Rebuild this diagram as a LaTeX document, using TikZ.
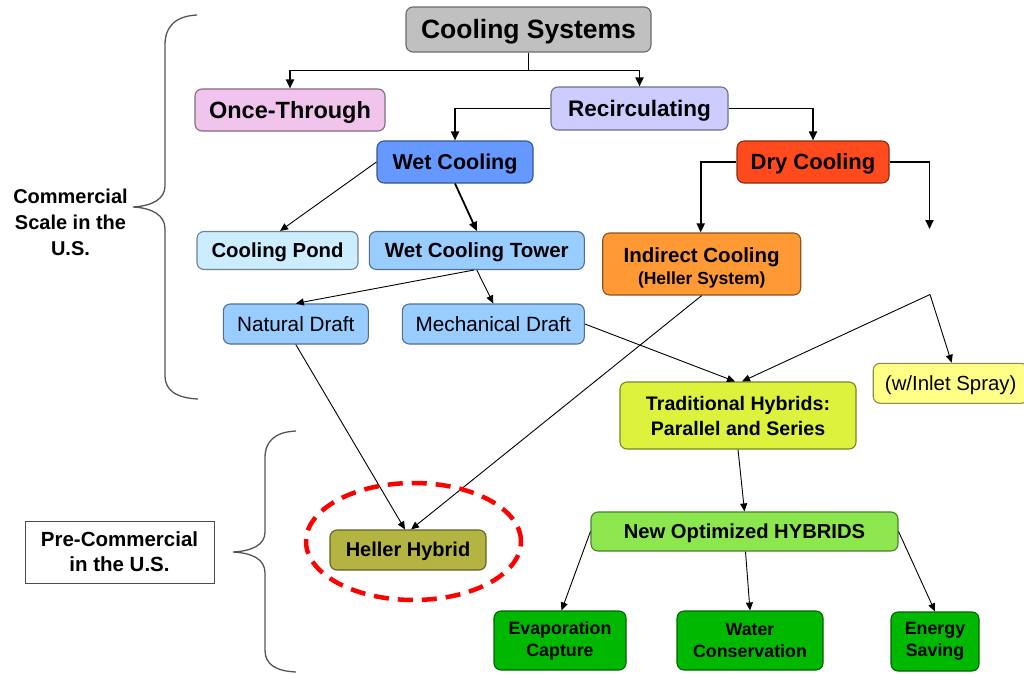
\documentclass[tikz,border=0pt]{standalone}
\usepackage{fontspec}
\setmainfont{Liberation Sans}
\usetikzlibrary{arrows.meta,shapes.geometric}

\definecolor{cgray}{HTML}{C0C0C0}
\definecolor{cpink}{HTML}{F0C4EC}
\definecolor{clav}{HTML}{CCCCFF}
\definecolor{cwet}{HTML}{6699FF}
\definecolor{cdry}{HTML}{FF4A1E}
\definecolor{cpond}{HTML}{CCECFF}
\definecolor{ctower}{HTML}{99CCFF}
\definecolor{cindir}{HTML}{FF9933}
\definecolor{cspray}{HTML}{FFFF88}
\definecolor{ctrad}{HTML}{DDF23C}
\definecolor{cnew}{HTML}{8CE64E}
\definecolor{cgreen}{HTML}{00B800}
\definecolor{cheller}{HTML}{B4B443}
\definecolor{cbrace}{HTML}{555555}

\newcommand\fsz[2]{\fontsize{#1}{#2}\selectfont}

\begin{document}
\begin{tikzpicture}[x=1pt,y=-1pt,
  box/.style={draw=#1!55!black, fill=#1, rounded corners=7pt, line width=1.1pt,
              inner sep=0pt, align=center},
  % single-line text: line box of ascent/descent so the baseline sits as in a text frame
  oneline/.style={text height=#1*0.905pt, text depth=#1*0.212pt},
  plainbox/.style={draw=black!70, fill=white, line width=1pt, inner sep=0pt, align=center},
  elbow/.style={line width=1.8pt, -{Triangle[length=9pt,width=8pt]}},
  link/.style={line width=0.9pt, -{Triangle[length=8pt,width=7pt]}},
  boldlink/.style={line width=1.8pt, -{Triangle[length=9pt,width=8pt]}},
  brace/.style={draw=cbrace, line width=1.3pt},
  hilite/.style={draw=red, line width=4.5pt, dash pattern=on 15pt off 9pt}
]
\fill[white] (0,0) rectangle (1024,674);
\useasboundingbox (0,0) rectangle (1024,674);

% ---- boxes ----
\node[box=cgray, oneline=26.5, minimum width=245pt, minimum height=45pt, font=\fsz{26.5}{30}\bfseries]
  (cs) at (528.5,29.5) {Cooling Systems};
\node[box=cpink, oneline=23.5, minimum width=190pt, minimum height=42pt, font=\fsz{23.5}{27}\bfseries]
  (once) at (290,110) {Once-Through};
\node[box=clav, oneline=22.5, minimum width=177pt, minimum height=43pt, font=\fsz{22.5}{26}\bfseries]
  (recirc) at (639.5,108.5) {Recirculating};
\node[box=cwet, oneline=21.5, minimum width=156pt, minimum height=42pt, font=\fsz{21.5}{25}\bfseries]
  (wet) at (455,162) {Wet Cooling};
\node[box=cdry, oneline=22, minimum width=152pt, minimum height=42pt, font=\fsz{22}{25}\bfseries]
  (dry) at (813,162) {Dry Cooling};
\node[box=cpond, oneline=20.3, minimum width=161pt, minimum height=38pt, font=\fsz{20.3}{24}\bfseries]
  (pond) at (277.5,250.5) {Cooling Pond};
\node[box=ctower, oneline=20.5, minimum width=215pt, minimum height=38pt, font=\fsz{20.5}{24}\bfseries]
  (wct) at (476.8,250.5) {Wet Cooling Tower};
\node[box=cindir, minimum width=198pt, minimum height=62pt, font=\fsz{20.5}{22}\bfseries]
  (indir) at (701.7,264) {\rule{0pt}{22.5pt}Indirect Cooling\\{\fsz{17.5}{22}\bfseries(Heller System)}};
\node[box=ctower, oneline=20.7, minimum width=145pt, minimum height=40pt, font=\fsz{20.7}{24}]
  (natural) at (295.8,324) {Natural Draft};
\node[box=ctower, oneline=20.7, minimum width=182pt, minimum height=40pt, font=\fsz{20.7}{24}]
  (mech) at (493.3,324) {Mechanical Draft};
\node[box=cspray, oneline=20.4, minimum width=155pt, minimum height=40pt, font=\fsz{20.4}{24}]
  (spray) at (950.7,383.3) {(w/Inlet Spray)};
\node[box=ctrad, minimum width=236pt, minimum height=67pt, font=\fsz{19.6}{25}\bfseries]
  (trad) at (738,415.5) {Traditional Hybrids:\\Parallel and Series};
\node[box=cnew, oneline=20.2, minimum width=307pt, minimum height=39pt, font=\fsz{20.2}{24}\bfseries]
  (newopt) at (744.5,531.5) {New Optimized HYBRIDS};
\node[box=cgreen, minimum width=132pt, minimum height=59pt, font=\fsz{17.8}{22}\bfseries]
  (evap) at (560,640.5) {Evaporation\\Capture};
\node[box=cgreen, minimum width=146pt, minimum height=59pt, font=\fsz{17.8}{22}\bfseries]
  (water) at (750,640.5) {Water\\Conservation};
\node[box=cgreen, minimum width=88pt, minimum height=59pt, font=\fsz{17.8}{22}\bfseries]
  (energy) at (935,641.5) {Energy\\Saving};
\node[box=cheller, oneline=20, minimum width=156pt, minimum height=40pt, font=\fsz{20}{24}\bfseries]
  (heller) at (408,550) {Heller Hybrid};

% ---- side labels ----
\node[font=\fsz{20}{26}\bfseries, align=center] (commercial) at (70.5,222)
  {Commercial\\Scale in the\\U.S.};
\node[plainbox, minimum width=189pt, minimum height=62pt, font=\fsz{20.5}{25}\bfseries]
  (precom) at (119.5,552) {Pre-Commercial\\in the U.S.};

% ---- braces ----
\draw[brace] (197,15) .. controls (176,16) and (165,26) .. (165,45)
  -- (165,186) .. controls (165,199) and (152,206) .. (133,207)
  .. controls (152,208) and (165,215) .. (165,229)
  -- (165,376) .. controls (165,390) and (176,398) .. (198,399);
\draw[brace] (296,431) .. controls (275,432) and (265,441) .. (265,458)
  -- (265,532) .. controls (265,545) and (252,551) .. (233,552)
  .. controls (252,553) and (265,559) .. (265,573)
  -- (265,650) .. controls (265,664) and (275,671) .. (296,672);

% ---- free ends on the dry-cooling side ----
\coordinate (drytip) at (929.5,229);
\coordinate (split) at (930,294.5);

% ---- connectors ----
\draw[elbow] (cs.south) -- ++(0,18) -| (once.north);
\draw[elbow] (cs.south) -- ++(0,18) -| (recirc.north);
\draw[elbow] (recirc.west) -| (wet.north);
\draw[elbow] (recirc.east) -| (dry.north);
\draw[elbow] (dry.west) -| ([xshift=-1pt]indir.north);
\draw[elbow] (dry.east) -| (drytip);

\draw[link] (wet.west) -- ([xshift=2.5pt]pond.north);
\draw[boldlink] (wet.south) -- (wct.north);
\draw[link] ([xshift=-3pt]wct.south) -- (natural.north);
\draw[link] (wct.south) -- (mech.north);
\draw[link] (natural.south) -- ([xshift=-3pt]heller.north);
\draw[link] (indir.south) -- ([xshift=3pt]heller.north);
\draw[link] (mech.east) -- ([xshift=-3pt]trad.north);
\draw[link] (split) -- ([xshift=4pt]trad.north);
\draw[link] (split) -- ([xshift=1pt]spray.north);
\draw[link] (trad.south) -- (newopt.north);
\draw[link] (newopt.west) -- ([xshift=1.5pt]evap.north);
\draw[link] ([xshift=1pt]newopt.south) -- (water.north);
\draw[link] (newopt.east) -- (energy.north);

% ---- highlight round the pre-commercial concept ----
\coordinate (ring) at (413.5,541.5);
\draw[hilite] (ring) ellipse [x radius=107.5pt, y radius=58.5pt];
\end{tikzpicture}
\end{document}
